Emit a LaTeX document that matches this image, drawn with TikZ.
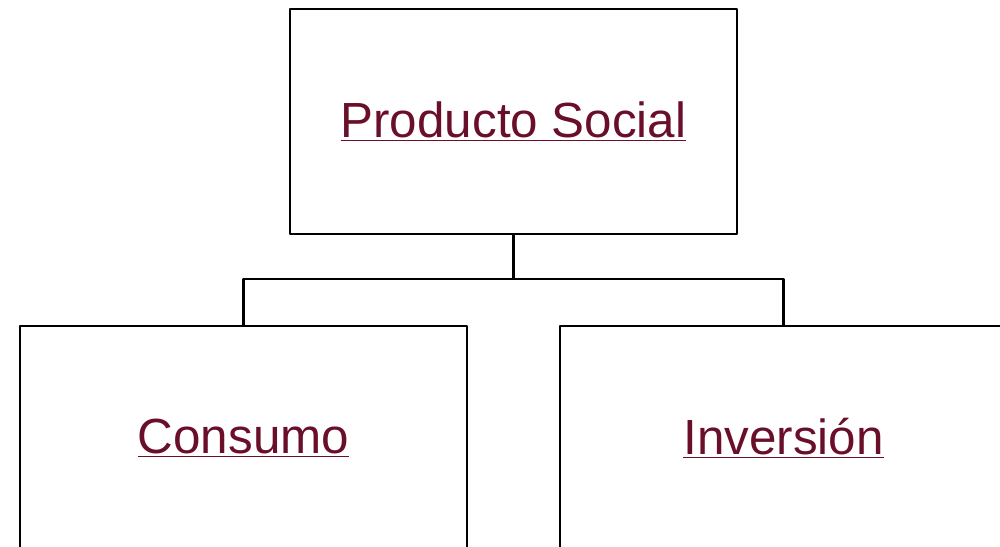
\documentclass[tikz,border=0pt]{standalone}
\usepackage{fontspec}
\setmainfont{Liberation Sans}
\definecolor{vino}{HTML}{6A0F2A}
\begin{document}
\begin{tikzpicture}[x=0.02cm,y=-0.02cm,line join=round,line width=1.6pt,
	caja/.style={draw=black,minimum width=8.94cm,minimum height=4.5cm,inner sep=0pt,
		font=\fontsize{28.1}{34}\selectfont,text=vino}]
		\useasboundingbox (0,0) rectangle (1000,547);
		\clip (0,0) rectangle (1000,547);
		\node[caja] (top) at (513.5,121.5) {\underline{Producto Social}};
		\node[caja] (cons) at (243.5,438.5) {\underline{Consumo}};
		\node[caja] (inv) at (783.5,438.5) {\underline{Inversión}};
		\coordinate (junc) at (513.5,279);
		\draw (top.south)--(junc);
		\draw (cons.north)|-(junc)-|(inv.north);
		\end{tikzpicture}
\end{document}
